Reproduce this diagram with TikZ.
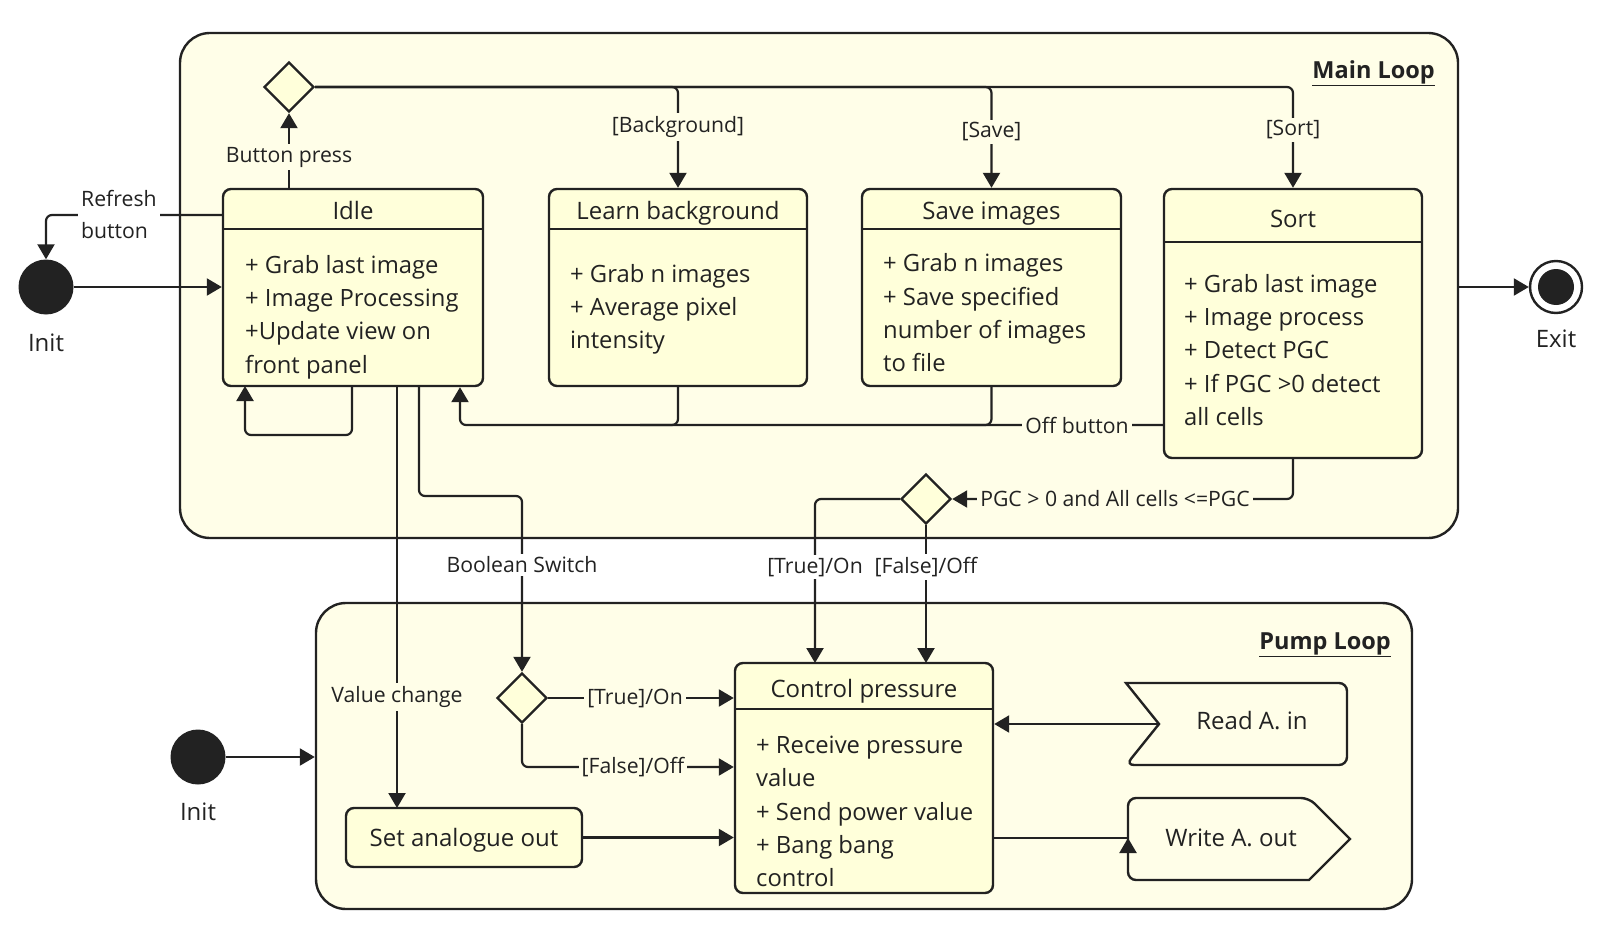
\documentclass[tikz,border=0pt]{standalone}
\usepackage{fontspec}
\setmainfont{Open Sans}
\usetikzlibrary{arrows.meta,shapes.geometric,calc}
\definecolor{ink}{HTML}{222222}
\definecolor{loopfill}{HTML}{FFFEE8}
\definecolor{boxfill}{HTML}{FFFFDA}
\begin{document}
\begin{tikzpicture}[x=1pt,y=-1pt,
  every node/.style={text=ink},
  loopbox/.style={draw=ink, line width=2.4pt, fill=loopfill, rounded corners=30pt, inner sep=0pt},
  statebox/.style={draw=ink, line width=2.4pt, fill=boxfill, rounded corners=8pt, inner sep=0pt},
  sepline/.style={draw=ink, line width=2.4pt},
  choice/.style={diamond, aspect=1, draw=ink, line width=2.4pt, fill=boxfill, minimum width=50pt, minimum height=50pt, inner sep=0pt},
  startdot/.style={circle, fill=ink, draw=none, minimum size=55pt, inner sep=0pt},
  title/.style={font=\fontsize{24}{28}\selectfont, inner sep=0pt, text height=18pt, text depth=6pt},
  body/.style={font=\fontsize{23.8}{33.3}\selectfont, align=left, inner sep=0pt, anchor=west},
  lab/.style={font=\fontsize{21.2}{24}\selectfont, fill=loopfill, inner sep=3pt},
  wlab/.style={lab, fill=white},
  conn/.style={draw=ink, line width=2.2pt, rounded corners=6pt},
  arr/.style={conn, -{Triangle[length=15pt,width=17pt]}},
  sig/.style={draw=ink, line width=2.4pt, fill=loopfill},
]
\useasboundingbox (0,0) rectangle (1600,936);
\fill[white] (0,0) rectangle (1600,936);

% containers
\node[loopbox, minimum width=1278pt, minimum height=505pt] (main) at (819,285.5) {};
\node[loopbox, minimum width=1096pt, minimum height=306pt] (pump) at (864,756) {};
\node[anchor=east, font=\fontsize{23.5}{28}\selectfont\bfseries, inner sep=0pt] (mainT) at (1435,73) {\underline{Main Loop}};
\node[anchor=east, font=\fontsize{23.5}{28}\selectfont\bfseries, inner sep=0pt] (pumpT) at (1391,645) {\underline{Pump Loop}};

% states in main loop
\node[statebox, minimum width=260pt, minimum height=197pt] (idle) at (353,287.5) {};
\draw[sepline] (223,229) -- (483,229);
\node[title] (idleT) at (353,213) {Idle};
\node[body] (idleB) at (245,317) {+ Grab last image\\+ Image Processing\\+Update view on\\front panel};

\node[statebox, minimum width=258pt, minimum height=197pt] (learn) at (678,287.5) {};
\draw[sepline] (549,229) -- (807,229);
\node[title] (learnT) at (678,213) {Learn background};
\node[body] (learnB) at (570,309.5) {+ Grab n images\\+ Average pixel\\intensity};

\node[statebox, minimum width=259pt, minimum height=197pt] (save) at (991.5,287.5) {};
\draw[sepline] (862,229) -- (1121,229);
\node[title] (saveT) at (991.5,213) {Save images};
\node[body] (saveB) at (883,313) {+ Grab n images\\+ Save specified\\number of images\\to file};

\node[statebox, minimum width=258pt, minimum height=269pt] (sort) at (1293,323.5) {};
\draw[sepline] (1164,242) -- (1422,242);
\node[title] (sortT) at (1293,221) {Sort};
\node[body] (sortB) at (1184,350) {+ Grab last image\\+ Image process\\+ Detect PGC\\+ If PGC >0 detect\\all cells};

\node[choice] (d1) at (289,87) {};
\node[choice] (d2) at (926,499) {};

% init / exit
\node[startdot] (init1) at (46,287) {};
\node[title] (init1T) at (46,345.5) {Init};
\node[circle, draw=ink, line width=2.4pt, fill=white, minimum size=52pt, inner sep=0pt] (exit) at (1556,287) {};
\node[circle, fill=ink, minimum size=36pt, inner sep=0pt] (exitdot) at (exit) {};
\node[title] (exitT) at (1556,341.5) {Exit};

% pump loop states
\node[statebox, minimum width=258pt, minimum height=230pt] (cp) at (864,778) {};
\draw[sepline] (735,709) -- (993,709);
\node[title] (cpT) at (864,691) {Control pressure};
\node[body] (cpB) at (756,811.5) {+ Receive pressure\\value\\+ Send power value\\+ Bang bang\\control};

\node[statebox, minimum width=236pt, minimum height=59pt] (setao) at (464,837.5) {};
\node[title] (setaoT) at (464,840) {Set analogue out};

\node[choice] (d3) at (522,698) {};
\node[startdot] (init2) at (198,757) {};
\node[title] (init2T) at (198,814.5) {Init};

% signal shapes
\draw[sig, rounded corners=8pt] (1126,683) -- (1347,683) -- (1347,765) -- (1126,765) [sharp corners] -- (1159,724) -- cycle;
\coordinate (readNotch) at (1159,724);
\node[title] (readT) at (1252,723) {Read A. in};
\draw[sig, rounded corners=8pt] (1309,798) [sharp corners] -- (1350,839) -- (1309,880) [rounded corners=8pt] -- (1128,880) -- (1128,798) -- cycle;
\coordinate (writeIn) at (1128,838);
\node[title] (writeT) at (1231,840) {Write A. out};

% connectors main loop
\draw[arr] (init1.east) -- (idle.west |- init1);
\draw[arr] (idle.north -| d1) -- (d1.south);
\node[lab] (bpL) at (289,157) {Button press};
\draw[arr] (d1.east) -- (d1.east -| learn.north) -- (learn.north);
\draw[arr] (d1.east) -- (d1.east -| save.north) -- (save.north);
\draw[arr] (d1.east) -- (d1.east -| sort.north) -- (sort.north);
\node[lab] (bgL) at (678,127) {[Background]};
\node[lab] (svL) at (991.5,132) {[Save]};
\node[lab] (stL) at (1293,130) {[Sort]};

\coordinate (offret) at (460,425);
\draw[conn] (learn.south) -- (learn.south |- offret) -- (640,425);
\draw[conn] (save.south) -- (save.south |- offret) -- (950,425);
\draw[arr] (sort.west |- offret) -- (offret) -- (idle.south -| offret);
\node[lab] (offL) at (1077,425) {Off button};

\draw[arr] (352,386) -- (352,435) -- (245,435) -- (245,386);

\draw[arr] (idle.west |- 0,215) -- (46,215) -- (init1.north);
\node[wlab, align=left, anchor=west, font=\fontsize{21.2}{32}\selectfont] (refreshL) at (78,214) {Refresh\\button};

\draw[arr] (main.east |- exit) -- (exit.west);

\draw[arr] (sort.south) |- (d2.east);
\node[lab] (pgcL) at (1115,499) {PGC > 0 and All cells <=PGC};

% connectors between loops
\draw[arr] (d2.west) -| (815,663);
\node[wlab] (trueL) at (815,567) {[True]/On};
\draw[arr] (d2.south) -- (926,663);
\node[wlab] (falseL) at (926,567) {[False]/Off};

\draw[arr] (397,386) -- (397,808);
\node[lab] (vcL) at (397,697) {Value change};

\draw[arr] (419,386) -- (419,496) -- (522,496) -- (d3.north);
\node[wlab] (boolL) at (522,565) {Boolean Switch};

% connectors pump loop
\draw[arr] (d3.east) -- (cp.west |- d3);
\node[lab] (t3L) at (635,698) {[True]/On};
\draw[arr] (d3.south) |- (cp.west |- 0,767);
\node[lab] (f3L) at (633,767) {[False]/Off};
\draw[arr] (setao.east) -- (cp.west |- setao);
\draw[arr] (init2.east) -- (pump.west |- init2);
\draw[arr] (readNotch) -- (cp.east |- readNotch);
\draw[conn] (cp.east |- writeIn) -- (writeIn);
\draw[arr] ($(writeIn)+(0,18)$) -- (writeIn);
\end{tikzpicture}
\end{document}
